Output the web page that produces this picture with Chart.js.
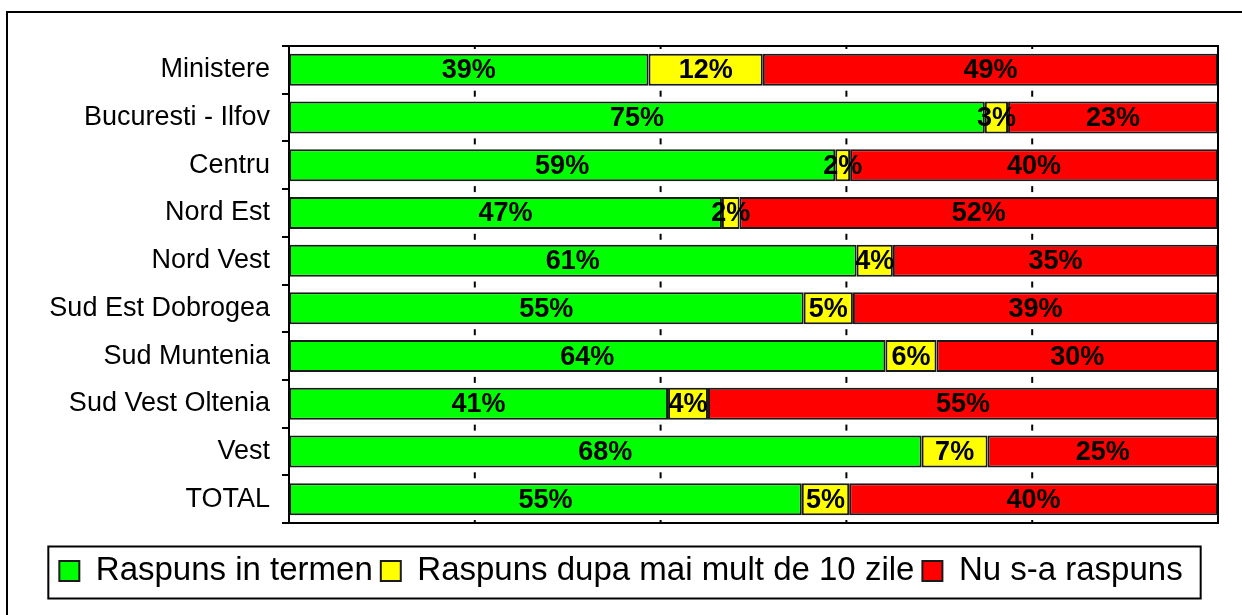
<!DOCTYPE html>
<html>
<head>
<meta charset="utf-8">
<script src="https://cdn.jsdelivr.net/npm/chart.js@4.4.1/dist/chart.umd.min.js"></script>
<style>
    html, body { margin: 0; padding: 0; background: #fff; }
</style>
</head>
<body>
<canvas id="barChartRaspuns" width="1242" height="615"></canvas>
<script>
// categorii si procente
var regiuni = ['Ministere', 'Bucuresti - Ilfov', 'Centru', 'Nord Est', 'Nord Vest',
               'Sud Est Dobrogea', 'Sud Muntenia', 'Sud Vest Oltenia', 'Vest', 'TOTAL'];
var inTermen   = [38.7, 74.9, 58.8, 46.6, 61.1, 55.4, 64.2, 40.8, 68.1, 55.2];
var dupa10Zile = [12.3,  2.5,  1.6,  1.9,  3.9,  5.3,  5.5,  4.3,  7.1,  5.1];
var nuRaspuns  = [49.0, 22.6, 39.6, 51.5, 35.0, 39.3, 30.3, 54.9, 24.8, 39.7];
var serii = ['Raspuns in termen', 'Raspuns dupa mai mult de 10 zile', 'Nu s-a raspuns'];
var xTicks = [0, 20, 40, 60, 80, 100];

var FONT = '"Liberation Sans", Arial, sans-serif';
Chart.defaults.font.family = FONT;
Chart.defaults.color = '#000';

// etichete in mijlocul fiecarui segment
var etichete = {
    id: 'etichete',
    afterDatasetsDraw: function (chart) {
        var ctx = chart.ctx;
        ctx.save();
        ctx.font = 'bold 27px ' + FONT;
        ctx.fillStyle = '#000';
        ctx.textAlign = 'center';
        ctx.textBaseline = 'middle';
        chart.data.datasets.forEach(function (ds, i) {
            chart.getDatasetMeta(i).data.forEach(function (bar, j) {
                ctx.fillText(Math.round(ds.data[j]) + '%', (bar.x + bar.base) / 2, bar.y + 1);
            });
        });
        ctx.restore();
    }
};

// rame + marcaje mici pe axa valorilor
var rame = {
    id: 'rame',
    beforeDatasetsDraw: function (chart) {
        var ctx = chart.ctx, a = chart.chartArea, sx = chart.scales.x;
        var n = regiuni.length, h = a.height / n;
        ctx.save();
        ctx.beginPath();
        ctx.rect(a.left, a.top, a.width, a.height);
        ctx.clip();
        ctx.fillStyle = '#000';
        xTicks.slice(1, -1).forEach(function (v) {
            var px = sx.getPixelForValue(v);
            for (var i = 0; i <= n; i++) {
                ctx.fillRect(px - 1, a.top + i * h - 3, 2, 6);
            }
        });
        ctx.restore();
    },
    afterDraw: function (chart) {
        var ctx = chart.ctx, a = chart.chartArea;
        ctx.save();
        ctx.strokeStyle = '#000';
        ctx.lineWidth = 2;
        ctx.strokeRect(a.left, a.top, a.width, a.height);
        ctx.strokeRect(7, 12, 1400, 800);
        var lg = chart.legend, hb = lg.legendHitBoxes;
        var l = hb[0].left - 11;
        var r = hb[hb.length - 1].left + hb[hb.length - 1].width + 18;
        ctx.strokeRect(l, lg.top, r - l, lg.bottom - lg.top + 1);
        ctx.restore();
    }
};

var barData = {
    labels: regiuni,
    datasets: [
        {label: serii[0], data: inTermen, backgroundColor: '#00ff00'},
        {label: serii[1], data: dupa10Zile, backgroundColor: '#ffff00'},
        {label: serii[2], data: nuRaspuns, backgroundColor: '#ff0000'}
    ]
};
barData.datasets.forEach(function (ds) {
    ds.borderColor = '#1a1a1a';
    ds.borderWidth = 2;
    ds.borderSkipped = false;
    ds.categoryPercentage = 1;
    ds.barPercentage = 0.67;
});

var barOptions = {
    indexAxis: 'y',
    responsive: false,
    animation: false,
    layout: {padding: {top: 46, bottom: 17.5, left: 0, right: 0}},
    plugins: {
        tooltip: {enabled: false},
        legend: {
            position: 'bottom',
            labels: {font: {size: 33}, boxWidth: 20, boxHeight: 20, padding: 8, color: '#000'}
        }
    },
    scales: {
        x: {
            stacked: true, min: 0, max: 100,
            ticks: {display: false, stepSize: 20},
            grid: {display: false},
            border: {display: false},
            afterFit: function (s) { s.height = 23.5; }
        },
        y: {
            stacked: true,
            ticks: {font: {size: 27}, color: '#000', padding: 12},
            grid: {display: true, drawOnChartArea: false, drawTicks: true, tickLength: 7,
                   color: '#000', lineWidth: 2, offset: true},
            border: {display: true, color: '#000', width: 2},
            afterFit: function (s) { s.width = 289; }
        },
        y2: {
            type: 'linear', position: 'right', display: true,
            ticks: {display: false},
            grid: {display: false},
            border: {display: false},
            afterFit: function (s) { s.width = 24; }
        }
    }
};

var drawBarGraph = document.getElementById('barChartRaspuns').getContext('2d');
new Chart(drawBarGraph, {type: 'bar', data: barData, options: barOptions, plugins: [etichete, rame]});
</script>
</body>
</html>
